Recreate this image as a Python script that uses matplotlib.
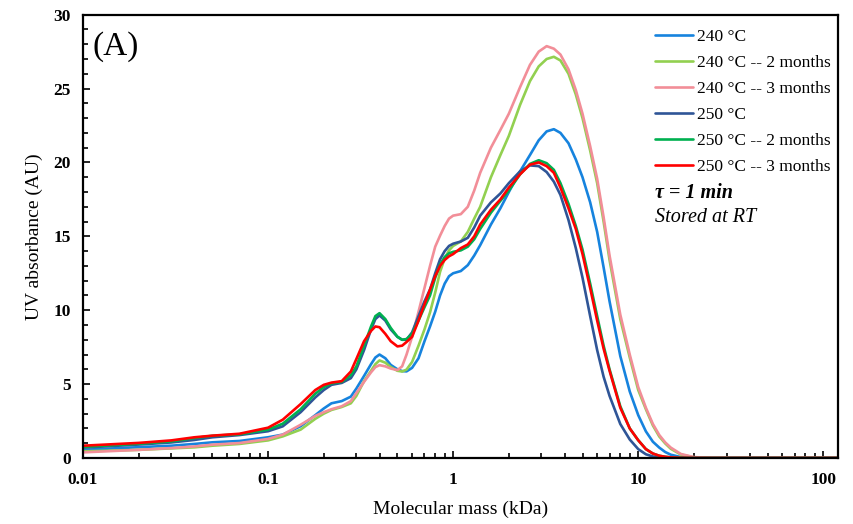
import matplotlib
matplotlib.use("Agg")
import matplotlib.pyplot as plt
from matplotlib.ticker import FixedLocator, LogLocator, MultipleLocator, FuncFormatter, NullFormatter

plt.rcParams["font.family"] = ["Liberation Serif", "DejaVu Serif"]

# ---- data ------------------------------------------------------------------
mass_kda = [0.01, 0.02, 0.03, 0.04, 0.05, 0.07, 0.1, 0.12, 0.15, 0.18,
            0.2, 0.22, 0.25, 0.28, 0.3, 0.33, 0.36, 0.38, 0.4, 0.43,
            0.46, 0.5, 0.53, 0.56, 0.6, 0.65, 0.7, 0.75, 0.8, 0.85,
            0.9, 0.95, 1.0, 1.1, 1.2, 1.3, 1.4, 1.6, 1.8, 2.0,
            2.3, 2.6, 2.9, 3.2, 3.5, 3.8, 4.2, 4.6, 5.0, 5.5,
            6.0, 6.5, 7.0, 8.0, 9.0, 10, 11, 12, 13, 14,
            15, 17, 20, 25, 40, 120]

uv_240 = [0.55, 0.73, 0.83, 0.95, 1.06, 1.15, 1.40, 1.58, 2.15, 2.9,
          3.35, 3.7, 3.85, 4.15, 4.7, 5.55, 6.35, 6.8, 7.0, 6.75,
          6.3, 6.0, 5.88, 5.86, 6.1, 6.75, 7.9, 8.9, 9.9, 11.0,
          11.8, 12.3, 12.5, 12.65, 13.05, 13.7, 14.4, 15.8, 16.9, 18.0,
          19.4, 20.5, 21.5, 22.1, 22.25, 22.0, 21.3, 20.2, 19.0, 17.3,
          15.3, 12.9, 10.6, 6.9, 4.5, 2.9, 1.8, 1.1, 0.7, 0.4,
          0.22, 0.06, 0.01, 0, 0, 0]

uv_240_2m = [0.45, 0.55, 0.65, 0.72, 0.83, 0.95, 1.19, 1.46, 1.92, 2.65,
             3.0, 3.25, 3.45, 3.7, 4.2, 5.2, 5.9, 6.35, 6.6, 6.45,
             6.15, 5.9, 5.85, 5.98, 6.5, 7.6, 8.7, 9.85, 11.2, 12.6,
             13.5, 14.05, 14.35, 14.65, 15.3, 16.2, 17.0, 19.0, 20.5, 21.8,
             23.9, 25.5, 26.5, 27.0, 27.15, 26.9, 26.0, 24.6, 23.0, 20.8,
             18.6, 16.0, 13.4, 9.4, 6.8, 4.6, 3.3, 2.2, 1.45, 0.98,
             0.62, 0.23, 0.04, 0, 0, 0]

uv_240_3m = [0.38, 0.55, 0.67, 0.78, 0.90, 1.01, 1.29, 1.58, 2.25, 2.85,
             3.1, 3.3, 3.5, 3.85, 4.4, 5.15, 5.8, 6.15, 6.28, 6.2,
             6.05, 5.95, 6.2, 7.0, 8.2, 9.9, 11.5, 13.0, 14.3, 15.05,
             15.7, 16.2, 16.4, 16.5, 17.0, 18.1, 19.3, 21.0, 22.2, 23.3,
             25.1, 26.6, 27.5, 27.87, 27.7, 27.3, 26.3, 24.9, 23.3, 21.1,
             18.9, 16.3, 13.7, 9.7, 7.0, 4.8, 3.4, 2.3, 1.55, 1.05,
             0.7, 0.27, 0.06, 0, 0, 0]

uv_250 = [0.70, 0.91, 1.05, 1.22, 1.40, 1.55, 1.81, 2.14, 3.1, 4.1,
          4.6, 4.95, 5.08, 5.4, 6.0, 7.3, 8.7, 9.4, 9.65, 9.3,
          8.7, 8.2, 8.0, 8.0, 8.5, 9.6, 10.6, 11.4, 12.5, 13.45,
          14.0, 14.35, 14.5, 14.65, 14.9, 15.6, 16.4, 17.3, 17.9, 18.6,
          19.4, 19.8, 19.75, 19.35, 18.7, 17.8, 16.1, 14.2, 12.2, 9.6,
          7.3, 5.5, 4.2, 2.3, 1.25, 0.6, 0.25, 0.1, 0.03, 0,
          0, 0, 0, 0, 0, 0]

uv_250_2m = [0.75, 0.96, 1.12, 1.35, 1.50, 1.60, 1.92, 2.32, 3.3, 4.35,
             4.8, 5.05, 5.15, 5.6, 6.2, 7.6, 8.9, 9.6, 9.8, 9.4,
             8.8, 8.2, 8.0, 8.05, 8.4, 9.3, 10.2, 11.0, 12.2, 13.1,
             13.6, 13.85, 13.95, 14.05, 14.3, 14.8, 15.5, 16.6, 17.4, 18.1,
             19.2, 19.9, 20.15, 19.95, 19.5, 18.6, 17.2, 15.7, 14.1, 11.8,
             9.6, 7.6, 6.0, 3.5, 2.0, 1.2, 0.6, 0.3, 0.15, 0.08,
             0.04, 0.01, 0, 0, 0, 0]

uv_250_3m = [0.83, 1.02, 1.19, 1.40, 1.51, 1.64, 2.05, 2.59, 3.65, 4.6,
             4.95, 5.1, 5.2, 5.85, 6.7, 7.9, 8.6, 8.9, 8.85, 8.4,
             7.9, 7.55, 7.6, 7.85, 8.2, 9.3, 10.4, 11.4, 12.3, 13.0,
             13.4, 13.65, 13.8, 14.2, 14.45, 15.0, 15.8, 16.8, 17.5, 18.3,
             19.2, 19.85, 20.0, 19.75, 19.3, 18.3, 16.9, 15.5, 13.8, 11.5,
             9.3, 7.4, 5.9, 3.4, 2.0, 1.2, 0.6, 0.3, 0.15, 0.08,
             0.04, 0.01, 0, 0, 0, 0]

series = [
    ("240 °C", uv_240, "#1683DE"),
    ("240 °C -- 2 months", uv_240_2m, "#92D050"),
    ("240 °C -- 3 months", uv_240_3m, "#F28E98"),
    ("250 °C", uv_250, "#2F5597"),
    ("250 °C -- 2 months", uv_250_2m, "#00B050"),
    ("250 °C -- 3 months", uv_250_3m, "#FF0000"),
]

# ---- figure -------------------------------------------------------------------
fig = plt.figure(figsize=(8.54, 5.24), dpi=100)
ax = fig.add_axes([0.0972, 0.126, 0.884, 0.846])

for label, ys, col in series:
    ax.plot(mass_kda, ys, color=col, lw=1.9, label=label,
            solid_joinstyle="round", solid_capstyle="round")

ax.set_xscale("log")
ax.set_xlim(0.01, 120)
ax.set_ylim(0, 30)

ax.xaxis.set_major_locator(FixedLocator([0.01, 0.1, 1, 10, 100]))
ax.xaxis.set_major_formatter(FuncFormatter(lambda v, p: f"{v:g}"))
ax.xaxis.set_minor_locator(LogLocator(base=10, subs=range(2, 10), numticks=20))
ax.xaxis.set_minor_formatter(NullFormatter())
ax.yaxis.set_major_locator(MultipleLocator(5))
ax.yaxis.set_minor_locator(MultipleLocator(1))

ax.tick_params(which="both", direction="in", width=1.2, labelsize=12.5)
ax.tick_params(which="major", length=5)
ax.tick_params(which="minor", length=3.5)
ax.tick_params(axis="x", pad=10)
ax.tick_params(axis="y", pad=9)
for t in ax.get_xticklabels() + ax.get_yticklabels():
    t.set_fontweight("bold")
for s in ax.spines.values():
    s.set_linewidth(1.6)

ax.set_xlabel("Molecular mass (kDa)", fontsize=14, labelpad=9)
ax.set_ylabel("UV absorbance (AU)", fontsize=14, labelpad=7)

ax.text(0.012, 0.962, "(A)", transform=ax.transAxes, fontsize=24, va="top", ha="left")

ax.legend(loc="upper left", bbox_to_anchor=(0.7576, 0.968), frameon=False, fontsize=12.5,
          handlelength=2.2, handletextpad=0.2, labelspacing=0.57,
          borderpad=0, borderaxespad=0)
ax.text(0.7576, 0.598, "τ = 1 min", transform=ax.transAxes, fontsize=14.5,
        fontweight="bold", style="italic", va="center")
ax.text(0.7576, 0.542, "Stored at RT", transform=ax.transAxes, fontsize=14.5,
        style="italic", va="center")

plt.savefig("out.png", dpi=100)
